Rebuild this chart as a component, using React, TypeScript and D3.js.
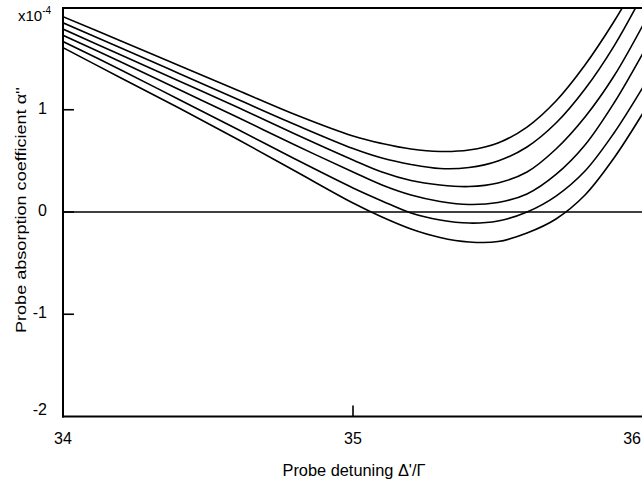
import React from 'react';
import * as d3 from 'd3';

const width = 642;
const height = 481;

// probe detuning Δ'/Γ
const detuning = [34.0, 34.2, 34.4, 34.6, 34.8, 35.0, 35.1, 35.2, 35.3, 35.4, 35.5, 35.6, 35.7, 35.8, 35.9, 36.0];

// absorption α'' (x10^-4), six curves top to bottom
const curve1 = [1.91, 1.672, 1.432, 1.193, 0.953, 0.743, 0.67, 0.616, 0.592, 0.606, 0.675, 0.831, 1.086, 1.438, 1.863, 2.347];
const curve2 = [1.85, 1.604, 1.355, 1.105, 0.856, 0.621, 0.528, 0.465, 0.425, 0.435, 0.499, 0.636, 0.87, 1.203, 1.623, 2.132];
const curve3 = [1.789, 1.535, 1.281, 1.027, 0.763, 0.509, 0.391, 0.308, 0.264, 0.249, 0.284, 0.391, 0.616, 0.929, 1.33, 1.829];
const curve4 = [1.728, 1.467, 1.198, 0.929, 0.655, 0.391, 0.264, 0.166, 0.103, 0.073, 0.093, 0.176, 0.367, 0.655, 1.066, 1.555];
const curve5 = [1.667, 1.389, 1.1, 0.812, 0.518, 0.235, 0.108, -0.01, -0.078, -0.108, -0.088, 0.0, 0.156, 0.401, 0.773, 1.222];
const curve6 = [1.607, 1.311, 1.017, 0.714, 0.401, 0.088, -0.049, -0.166, -0.249, -0.293, -0.289, -0.205, -0.068, 0.166, 0.528, 0.968];

const allCurves = [curve1, curve2, curve3, curve4, curve5, curve6];

const xTicks = [34, 35, 36];
const yTicks = [-2, -1, 0, 1];

const left = 63;
const right = 643;
const top = 7.5;
const bottom = 416.5;

const xScale = d3.scaleLinear().domain([34, 36]).range([left, right]);
const yScale = d3.scaleLinear().domain([-2, 2]).range([bottom, top]);

const line = d3
  .line<number>()
  .x((d, i) => xScale(detuning[i]))
  .y(d => yScale(d))
  .curve(d3.curveCatmullRom.alpha(0.5));

const font = "'Liberation Sans', Arial, sans-serif";

export default function App() {
  return (
    <svg
      width={width}
      height={height}
      style={{ position: 'absolute', left: 0, top: 0, background: '#fff' }}
      fontFamily={font}
    >
      <defs>
        <clipPath id="plot">
          <rect x={left} y={top + 1} width={right - left} height={bottom - top - 1} />
        </clipPath>
      </defs>

      <g clipPath="url(#plot)">
        {allCurves.map((c, i) => (
          <path key={i} d={line(c) || ''} fill="none" stroke="#000" strokeWidth={1.6} />
        ))}
      </g>

      {/* zero line */}
      <line x1={left} x2={width} y1={yScale(0)} y2={yScale(0)} stroke="#000" strokeWidth={1.6} />

      {/* frame */}
      <line x1={left} x2={width} y1={yScale(2) + 0.5} y2={yScale(2) + 0.5} stroke="#000" strokeWidth={2} />
      <line x1={left} x2={left} y1={yScale(2) - 0.5} y2={bottom + 1} stroke="#000" strokeWidth={2} />
      <line x1={left - 1} x2={width} y1={bottom} y2={bottom} stroke="#000" strokeWidth={2} />

      {/* y ticks */}
      {yTicks.map(t => (
        <g key={t}>
          {t > -2 && (
            <line x1={left} x2={left + 11} y1={yScale(t)} y2={yScale(t)} stroke="#000" strokeWidth={1.6} />
          )}
          <text x={47} y={yScale(t) + (t === -2 ? -2 : 4)} fontSize={16} textAnchor="end">
            {t}
          </text>
        </g>
      ))}

      {/* x ticks */}
      {xTicks.map(t => (
        <g key={t}>
          {t === 35 && (
            <line x1={xScale(t)} x2={xScale(t)} y1={bottom} y2={bottom - 11} stroke="#000" strokeWidth={1.6} />
          )}
          <text
            x={t === 36 ? 641 : xScale(t)}
            y={444}
            fontSize={16}
            textAnchor={t === 36 ? 'end' : 'middle'}
          >
            {t}
          </text>
        </g>
      ))}

      <text x={18} y={21} fontSize={15}>
        x10<tspan dy={-7} fontSize={10}>-4</tspan>
      </text>

      <text x={354} y={476} fontSize={16} textAnchor="middle" textLength={143} lengthAdjust="spacingAndGlyphs">
        Probe detuning Δ'/Γ
      </text>

      <text
        transform={`translate(26, 210) rotate(-90)`}
        fontSize={15.5}
        textAnchor="middle"
        textLength={246}
        lengthAdjust="spacingAndGlyphs"
      >
        Probe absorption coefficient α''
      </text>
    </svg>
  );
}
